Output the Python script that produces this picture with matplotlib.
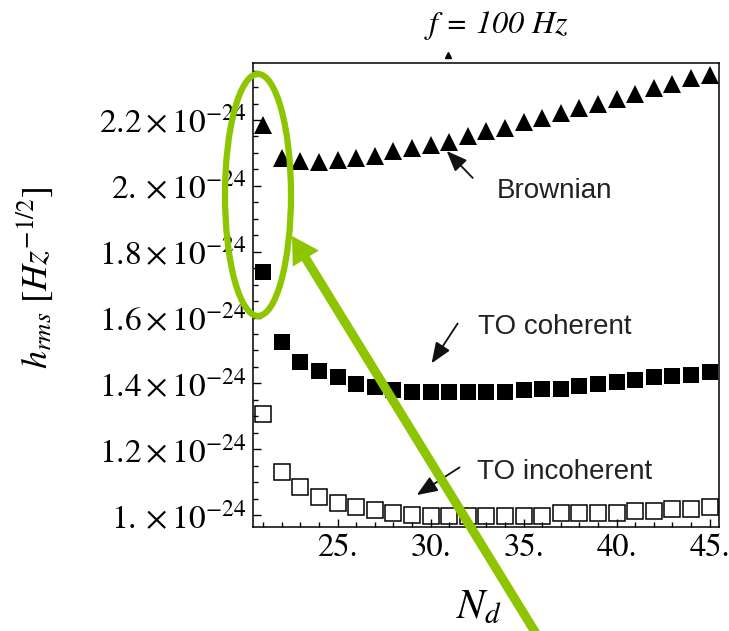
import numpy as np
import matplotlib
matplotlib.use("Agg")
import matplotlib.pyplot as plt
from matplotlib.patches import Ellipse, FancyArrowPatch
from matplotlib.ticker import FixedLocator, MultipleLocator

plt.rcParams["mathtext.fontset"] = "stix"
plt.rcParams["font.family"] = "STIXGeneral"

# data, h_rms in units of 1e-24 Hz^-1/2
n_d = np.arange(21, 46)
brownian = [2.185, 2.086, 2.076, 2.071, 2.078, 2.084, 2.091, 2.106, 2.114, 2.124,
            2.134, 2.152, 2.165, 2.177, 2.195, 2.207, 2.222, 2.235, 2.249, 2.263,
            2.280, 2.298, 2.310, 2.326, 2.338]
to_coherent = [1.737, 1.525, 1.465, 1.439, 1.419, 1.399, 1.389, 1.381, 1.374, 1.374,
               1.374, 1.374, 1.374, 1.374, 1.379, 1.384, 1.384, 1.391, 1.399, 1.404,
               1.409, 1.419, 1.424, 1.427, 1.434]
to_incoherent = [1.308, 1.131, 1.084, 1.055, 1.037, 1.025, 1.015, 1.007, 1.000, 0.997,
                 0.997, 0.997, 0.997, 0.997, 0.997, 0.997, 1.005, 1.005, 1.005, 1.008,
                 1.013, 1.013, 1.020, 1.020, 1.025]

x_ticks = [25, 30, 35, 40, 45]
x_ticklabels = ["25.", "30.", "35.", "40.", "45."]
y_ticks = [1.0, 1.2, 1.4, 1.6, 1.8, 2.0, 2.2]
y_ticklabels = [r"$1.\times10^{-24}$", r"$1.2\times10^{-24}$", r"$1.4\times10^{-24}$",
                r"$1.6\times10^{-24}$", r"$1.8\times10^{-24}$", r"$2.\times10^{-24}$",
                r"$2.2\times10^{-24}$"]

W, H = 729, 631
fig = plt.figure(figsize=(W / 100, H / 100), dpi=100)
ax = fig.add_axes([253 / W, 1 - 527 / H, (719 - 253) / W, (527 - 63) / H])

ax.plot(n_d, brownian, "^", color="black", ms=13, mew=0)
ax.plot(n_d, to_coherent, "s", color="black", ms=11.5, mew=0)
ax.plot(n_d, to_incoherent, "s", mfc="none", mec="black", ms=11.5, mew=1.1)

ax.set_xlim(20.45, 45.5)
ax.set_ylim(0.964, 2.373)

ax.xaxis.set_major_locator(FixedLocator(x_ticks))
ax.set_xticklabels(x_ticklabels, fontsize=23.5)
ax.xaxis.set_minor_locator(MultipleLocator(1))
ax.yaxis.set_major_locator(FixedLocator(y_ticks))
ax.set_yticklabels(y_ticklabels, fontsize=24)
ax.yaxis.set_minor_locator(MultipleLocator(0.05))
ax.tick_params(which="both", direction="in", top=False, right=False, width=1.0)
ax.tick_params(which="major", length=6, pad=5)
ax.tick_params(which="minor", length=3.6)
for s in ax.spines.values():
    s.set_linewidth(1.1)

# curve labels with small arrows
arrow_kw = dict(arrowstyle="-|>,head_length=0.45,head_width=0.18", color="#111111",
                lw=1.3, mutation_scale=28, shrinkA=0, shrinkB=0)
ax.annotate("", xy=(30.86, 2.106), xytext=(32.26, 2.024), arrowprops=arrow_kw)
ax.annotate("", xy=(30.05, 1.461), xytext=(31.45, 1.582), arrowprops=arrow_kw)
ax.annotate("", xy=(29.25, 1.061), xytext=(31.55, 1.145), arrowprops=arrow_kw)
lab_kw = dict(ha="left", va="center", fontsize=20, family="Liberation Sans", color="#222222")
ax.text(33.55, 1.985, "Brownian", **lab_kw)
ax.text(32.53, 1.570, "TO coherent", **lab_kw)
ax.text(32.47, 1.132, "TO incoherent", **lab_kw)

fig.text(496 / W, 1 - 25 / H, r"$f$ = 100 $Hz$", ha="center", va="center",
         fontsize=23, style="italic")
fig.text(479 / W, 1 - 608 / H, r"$N_d$", ha="center", va="center", fontsize=30)
fig.text(35 / W, 1 - 278 / H, r"$h_{rms}\ [Hz^{-1/2}]$", ha="center", va="center",
         fontsize=26, rotation=90)

# cropped marker at the top edge
fig.lines.append(plt.Line2D([448 / W], [1 - 55 / H], marker="^", ms=5, color="black",
                            transform=fig.transFigure))

# green highlight overlay
green = "#8DC600"
fig.patches.append(Ellipse((258 / W, 1 - 195 / H), 66 / W, 242 / H, fill=False,
                           ec=green, lw=4.5, transform=fig.transFigure))
fig.patches.append(FancyArrowPatch((540 / W, 1 - 640 / H), (292 / W, 1 - 236 / H),
                                   arrowstyle="simple,head_length=0.95,head_width=1.1,tail_width=0.33",
                                   mutation_scale=20, color=green, lw=0,
                                   shrinkA=0, shrinkB=0,
                                   transform=fig.transFigure))

fig.savefig("out.png", dpi=100)
